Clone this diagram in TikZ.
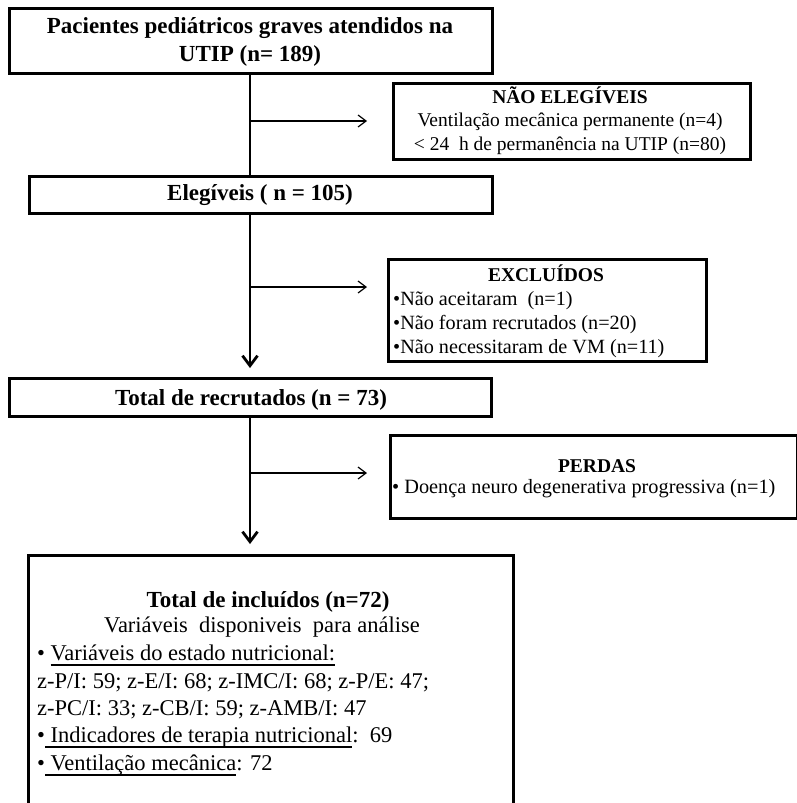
\documentclass[tikz,border=0pt]{standalone}
\usepackage{fontspec}
\setmainfont{Liberation Serif}
\usetikzlibrary{arrows.meta}
\newcommand\ulx[1]{\setbox0\hbox{#1}\rlap{\rule[-5.5pt]{\wd0}{1.2pt}}\box0}
\begin{document}
\begin{tikzpicture}[x=1pt,y=-1pt,
  box/.style={draw, line width=2.6pt, inner sep=0pt, anchor=north west},
  hd/.style={font=\fontsize{23}{27}\selectfont\bfseries, anchor=base, inner sep=0pt},
  sd/.style={font=\fontsize{19.5}{23}\selectfont, anchor=base, inner sep=0pt},
  sdx/.style={font=\fontsize{20.2}{24}\selectfont, anchor=base west, inner sep=0pt},
  sdb/.style={font=\fontsize{19.5}{23}\selectfont\bfseries, anchor=base, inner sep=0pt},
  bt/.style={font=\fontsize{22.5}{27}\selectfont, anchor=base west, inner sep=0pt},
  spine/.style={line width=2.6pt},
  branch/.style={line width=1.2pt, -{Straight Barb[length=8pt,width=12pt]}},
  down/.style={line width=2.8pt, -{Straight Barb[length=10pt,width=15pt]}}
]
\useasboundingbox (0,0) rectangle (797,803);

% boxes
\node[box, minimum width=483pt, minimum height=65pt] (top) at (8,7) {};
\node[box, minimum width=357pt, minimum height=76pt] (ne) at (392,82) {};
\node[box, minimum width=463pt, minimum height=37pt] (eleg) at (28,175) {};
\node[box, minimum width=318pt, minimum height=102pt] (excl) at (387,258) {};
\node[box, minimum width=482pt, minimum height=38pt] (recr) at (8,377) {};
\node[box, minimum width=407pt, minimum height=83pt] (perd) at (389,434) {};
\node[box, minimum width=485pt, minimum height=262pt] (incl) at (27,554) {};

% texts
\node[hd] (t1) at (250,33) {Pacientes pediátricos graves atendidos na};
\node[hd] (t2) at (250,61) {UTIP (n= 189)};

\node[sdb] (ne1) at (570,103) {NÃO ELEGÍVEIS};
\node[sd] (ne2) at (570,126.5) {Ventilação mecânica permanente (n=4)};
\node[sd] (ne3) at (570,150) {< 24\ \ h de permanência na UTIP (n=80)};

\node[hd] (el) at (260,200) {Elegíveis ( n = 105)};

\node[sdb] (ex0) at (546,281) {EXCLUÍDOS};
\node[sdx] (ex1) at (393,305) {•Não aceitaram\ \ (n=1)};
\node[sdx] (ex2) at (393,329) {•Não foram recrutados (n=20)};
\node[sdx] (ex3) at (393,353) {•Não necessitaram de VM (n=11)};

\node[hd] (rc) at (251,405) {Total de recrutados (n = 73)};

\node[sdb] (pd0) at (597,472) {PERDAS};
\node[font=\fontsize{20.3}{24}\selectfont, anchor=base west, inner sep=0pt] (pd1) at (392,493) {• Doença neuro degenerativa progressiva (n=1)};

\node[hd] (in0) at (268,607) {Total de incluídos (n=72)};
\node[font=\fontsize{22.5}{27}\selectfont, anchor=base, inner sep=0pt] (in1) at (262,632) {Variáveis\ \ disponiveis\ \ para análise};
\node[bt] (in2) at (37,660) {• \ulx{Variáveis do estado nutricional:}};
\node[bt] (in3) at (37,688) {z-P/I: 59; z-E/I: 68; z-IMC/I: 68; z-P/E: 47;};
\node[bt] (in4) at (37,715) {z-PC/I: 33; z-CB/I: 59; z-AMB/I: 47};
\node[bt] (in5) at (37,742) {•\ulx{ Indicadores de terapia nutricional}:\ \ 69};
\node[bt] (in6) at (37,770) {•\ulx{ Ventilação mecânica}: 72};

% connectors
\coordinate (sp) at (250,0);
\coordinate (b1) at (367,121);
\coordinate (b2) at (367,287);
\coordinate (b3) at (367,473);
\draw[spine] (top.south -| sp) -- (eleg.north -| sp);
\draw[down, shorten >=9pt] (eleg.south -| sp) -- (recr.north -| sp);
\draw[down, shorten >=10pt] (recr.south -| sp) -- (incl.north -| sp);
\draw[branch] (b1 -| sp) -- (b1);
\draw[branch] (b2 -| sp) -- (b2);
\draw[branch] (b3 -| sp) -- (b3);
\end{tikzpicture}
\end{document}
